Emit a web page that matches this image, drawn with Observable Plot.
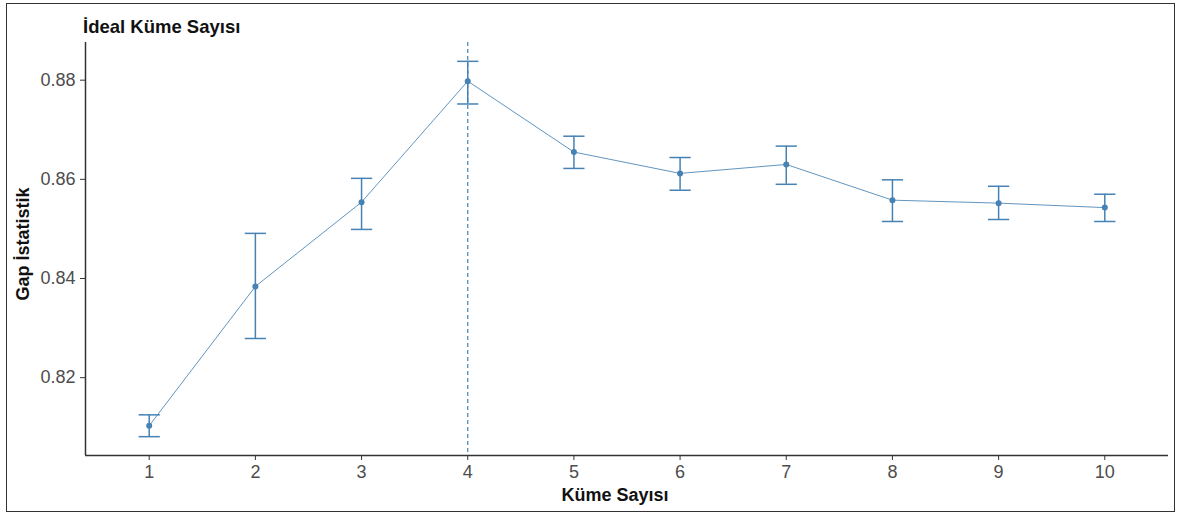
<!DOCTYPE html>
<html>
<head>
<meta charset="utf-8">
<script src="https://cdn.jsdelivr.net/npm/d3@7"></script>
<script src="https://cdn.jsdelivr.net/npm/@observablehq/plot@0.6"></script>
<style>
  html, body { margin: 0; padding: 0; background: #fff; }
  #wrap { position: relative; width: 1180px; height: 517px; font-family: "Liberation Sans", Arial, sans-serif; }
  #border { position: absolute; left: 6px; top: 3px; width: 1167px; height: 507px; border: 1.5px solid #333; box-sizing: content-box; pointer-events: none; }
  .lbl { position: absolute; font-weight: bold; color: #111; white-space: nowrap; line-height: 1; }
  #title { left: 83px; top: 18px; font-size: 18.5px; }
  #xlab { left: 615px; top: 486px; font-size: 18px; transform: translateX(-50%); }
  #ylab { left: 23px; top: 244px; font-size: 18px; transform: translate(-50%, -50%) rotate(-90deg); }
  #chart { position: absolute; left: 0; top: 0; }
</style>
</head>
<body>
<div id="wrap">
  <div id="chart"></div>
  <div id="border"></div>
  <div class="lbl" id="title">İdeal Küme Sayısı</div>
  <div class="lbl" id="ylab">Gap İstatistik</div>
  <div class="lbl" id="xlab">Küme Sayısı</div>
</div>
<script>
// Data
const clusters = [1, 2, 3, 4, 5, 6, 7, 8, 9, 10];
const gapStat  = [0.8103, 0.8384, 0.8554, 0.8798, 0.8655, 0.8612, 0.8630, 0.8558, 0.8552, 0.8543];
const gapLow   = [0.8081, 0.8279, 0.8499, 0.8752, 0.8622, 0.8578, 0.8590, 0.8515, 0.8519, 0.8515];
const gapHigh  = [0.8125, 0.8491, 0.8602, 0.8838, 0.8687, 0.8644, 0.8667, 0.8599, 0.8586, 0.8570];
const yTicks   = [0.82, 0.84, 0.86, 0.88];
const optimalK = [4];

const xDomain = [0.4, 10.6];
const yDomain = [0.8043, 0.8876];
const capHalf = 0.1;

const data = clusters.map((k, i) => ({k, gap: gapStat[i], lo: gapLow[i], hi: gapHigh[i]}));
const col = "steelblue";

const chart = Plot.plot({
  width: 1180,
  height: 517,
  marginLeft: 85,
  marginRight: 12,
  marginTop: 42,
  marginBottom: 62,
  style: {fontFamily: "'Liberation Sans', Arial, sans-serif", background: "transparent"},
  x: {type: "linear", domain: xDomain},
  y: {domain: yDomain},
  marks: [
    Plot.ruleX(optimalK, {stroke: col, strokeWidth: 1.2, strokeDasharray: "4,3"}),
    Plot.line(data, {x: "k", y: "gap", stroke: col, strokeWidth: 1, strokeOpacity: 0.85}),
    Plot.ruleX(data, {x: "k", y1: "lo", y2: "hi", stroke: col, strokeWidth: 1.5}),
    Plot.link(data, {x1: d => d.k - capHalf, x2: d => d.k + capHalf, y1: "hi", y2: "hi", stroke: col, strokeWidth: 1.5}),
    Plot.link(data, {x1: d => d.k - capHalf, x2: d => d.k + capHalf, y1: "lo", y2: "lo", stroke: col, strokeWidth: 1.5}),
    Plot.dot(data, {x: "k", y: "gap", r: 3, fill: col, stroke: "none"}),
    Plot.ruleY([yDomain[0]], {stroke: "#333", strokeWidth: 1.5}),
    Plot.ruleX([xDomain[0]], {stroke: "#333", strokeWidth: 1.5}),
    Plot.axisX(clusters, {tickSize: 5, tickPadding: 5, fontSize: 18, color: "#4d4d4d", stroke: "#333", label: null, tickFormat: d => String(d)}),
    Plot.axisY(yTicks, {tickSize: 5, tickPadding: 5, fontSize: 18, color: "#4d4d4d", stroke: "#333", label: null, tickFormat: d => d.toFixed(2)})
  ]
});
document.getElementById("chart").appendChild(chart);
</script>
</body>
</html>
